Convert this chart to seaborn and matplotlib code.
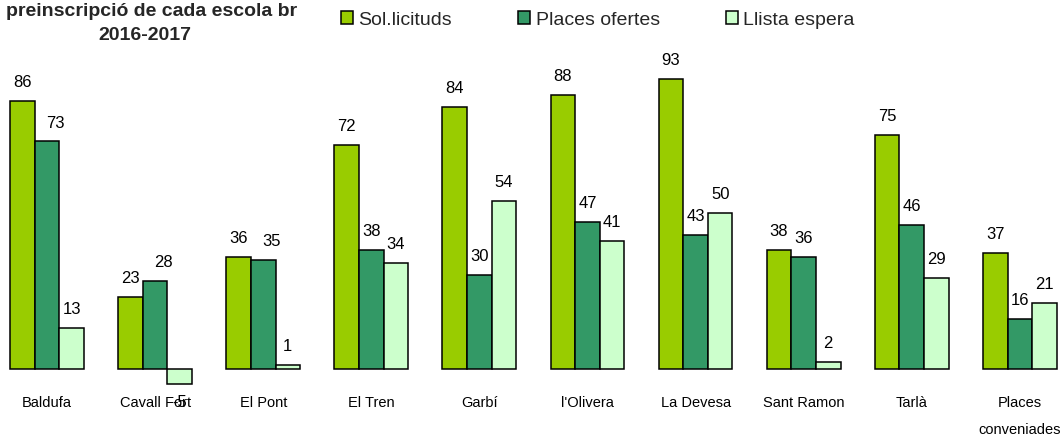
import matplotlib
matplotlib.use("Agg")
import matplotlib.pyplot as plt
import pandas as pd
import seaborn as sns

# data
escoles = ["Baldufa", "Cavall Fort", "El Pont", "El Tren", "Garbí", "l'Olivera",
           "La Devesa", "Sant Ramon", "Tarlà", "Places\nconveniades"]
sollicituds = [86, 23, 36, 72, 84, 88, 93, 38, 75, 37]
places_ofertes = [73, 28, 35, 38, 30, 47, 43, 36, 46, 16]
llista_espera = [13, -5, 1, 34, 54, 41, 50, 2, 29, 21]
series = ["Sol.licituds", "Places ofertes", "Llista espera"]
colors = ["#99CC00", "#339966", "#CCFFCC"]


def main():
	sns.set_theme(style="white")
	plt.rcParams['font.family'] = ['Liberation Sans', 'DejaVu Sans']

	df = pd.DataFrame({
		"escola": escoles * 3,
		"valor": sollicituds + places_ofertes + llista_espera,
		"serie": [s for s in series for _ in escoles],
	})

	fig = plt.figure(figsize=(10.62, 4.36), dpi=100)
	ax = fig.add_axes([0, 0, 1, 1])
	sns.barplot(data=df, x="escola", y="valor", hue="serie", hue_order=series,
				palette=colors, saturation=1, width=0.683, gap=0,
				edgecolor="black", linewidth=1.1, errorbar=None, ax=ax)

	ax.set_xlim(-0.435, 9.39)
	ax.set_ylim(-21.7, 118.5)
	ax.set_axis_off()

	# value labels
	nudge = {(1, 0): 6, (1, 1): 6, (1, 2): 6}
	for i, cont in enumerate(ax.containers):
		for j, bar in enumerate(cont):
			v = bar.get_height()
			xc = bar.get_x() + bar.get_width() / 2
			off = 13.3 if v >= 0 else -13.3
			ax.annotate(f"{int(round(v))}", (xc, v), xytext=(nudge.get((i, j), 0), off),
						textcoords="offset points", ha="center", va="center",
						fontsize=12, color="black")

	# category labels
	for k, name in enumerate(escoles):
		ax.text(k, -8.8, name, ha="center", va="top", fontsize=10.5,
				linespacing=2.2, color="black")

	handles, labels = ax.get_legend_handles_labels()
	ax.legend(handles, labels, ncol=3, frameon=False, fontsize=14,
			  loc="center left", bbox_to_anchor=(341 / 1062, 1 - 20 / 436),
			  bbox_transform=fig.transFigure, borderpad=0, borderaxespad=0,
			  handlelength=0.6, handleheight=0.6, handletextpad=0.3,
			  columnspacing=3.4)

	fig.text(152 / 1062, 1 - 11 / 436, "preinscripció de cada escola br",
			 ha="center", va="center", fontsize=14, fontweight="bold")
	fig.text(145 / 1062, 1 - 36 / 436, "2016-2017",
			 ha="center", va="center", fontsize=14, fontweight="bold")

	fig.savefig("out.png", dpi=100)


if __name__ == '__main__':
	main()
